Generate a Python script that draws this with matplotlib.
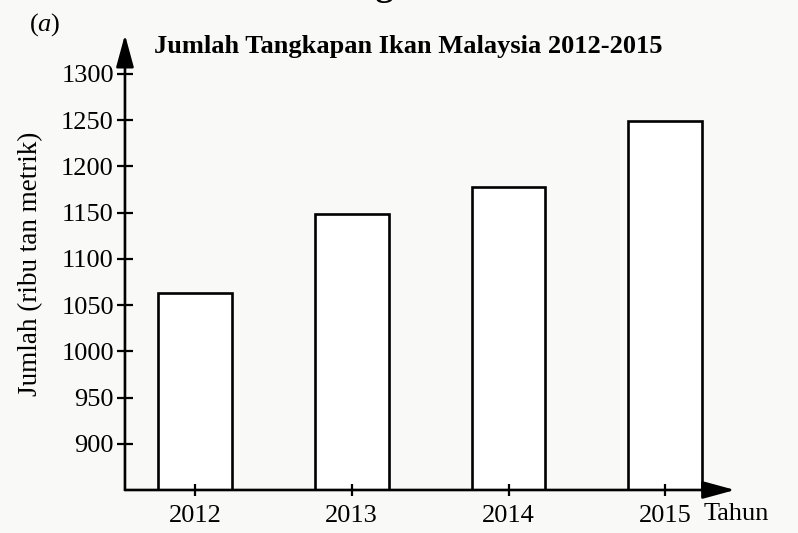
import matplotlib
matplotlib.use("Agg")
import matplotlib.pyplot as plt

# data (ribu tan metrik)
years = ["2012", "2013", "2014", "2015"]
catch = [1063, 1149, 1178, 1249]
yticks = [900, 950, 1000, 1050, 1100, 1150, 1200, 1250, 1300]

plt.rcParams["font.family"] = ["Liberation Serif", "DejaVu Serif"]
plt.rcParams["mathtext.fontset"] = "custom"
plt.rcParams["mathtext.it"] = "Liberation Serif:italic"
plt.rcParams["mathtext.rm"] = "Liberation Serif"

fig = plt.figure(figsize=(7.98, 5.33), dpi=100)
fig.patch.set_facecolor("#f9f9f8")
ax = fig.add_axes([0.1566, 0.0807, 0.7644, 0.85])
ax.set_facecolor("none")

x = range(len(years))
ax.bar(x, catch, width=0.47, bottom=0, color="white", edgecolor="black",
       linewidth=1.9, zorder=1)

ax.set_xlim(-0.446, 3.444)
ax.set_ylim(850, 1340)
ax.set_yticks(yticks)
ax.set_xticks(list(x))
ax.set_xticklabels(years)
ax.tick_params(axis="y", direction="inout", length=12, width=1.6, labelsize=19, pad=2)
ax.tick_params(axis="x", direction="inout", length=9, width=1.6, labelsize=19, pad=6)

for s in ax.spines.values():
    s.set_visible(False)

# axis lines with arrow heads
arrow = dict(arrowstyle="-|>,head_length=1.1,head_width=0.3", color="black",
             lw=1.9, shrinkA=0, shrinkB=0, mutation_scale=18)
ax.annotate("", xy=(0, 1.005), xytext=(0, 0), xycoords="axes fraction", arrowprops=arrow)
ax.annotate("", xy=(1, 0), xytext=(0, 0), xycoords="axes fraction", arrowprops=arrow)

ax.set_ylabel("Jumlah (ribu tan metrik)", fontsize=19.5)
ax.yaxis.set_label_coords(-0.134, 0.5)
fig.text(408 / 798, 1 - 47 / 533, "Jumlah Tangkapan Ikan Malaysia 2012-2015",
         ha="center", va="center", fontsize=19, fontweight="bold")
fig.text(29 / 798, 1 - 25 / 533, "($a$)", fontsize=19, ha="left", va="center")
fig.text(704 / 798, 1 - 514 / 533, "Tahun", fontsize=19, ha="left", va="center")
fig.text(385 / 798, 1 - 3 / 533, "Bahagian B", fontsize=26, fontweight="bold",
         ha="center", va="bottom")

fig.savefig("out.png", dpi=100, facecolor=fig.get_facecolor())
